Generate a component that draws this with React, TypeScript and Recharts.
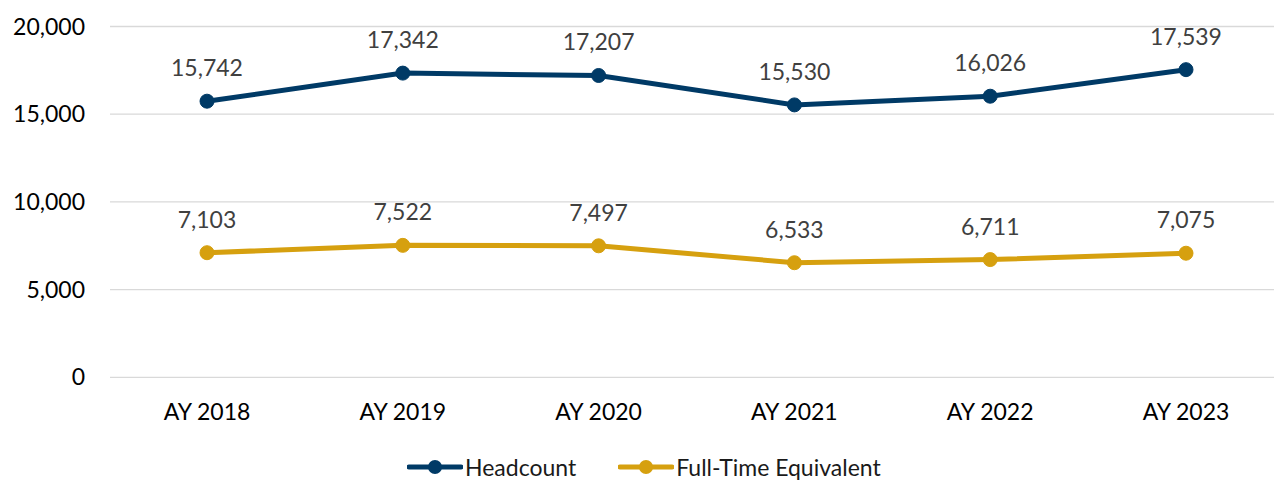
import React from 'react';
import { LineChart, Line, XAxis, YAxis, CartesianGrid, Legend, LabelList } from 'recharts';

const categories = ['AY 2018', 'AY 2019', 'AY 2020', 'AY 2021', 'AY 2022', 'AY 2023'];
const headcount = [15742, 17342, 17207, 15530, 16026, 17539];
const fte = [7103, 7522, 7497, 6533, 6711, 7075];
const yTicks = [0, 5000, 10000, 15000, 20000];

const data = categories.map((c, i) => ({ name: c, headcount: headcount[i], fte: fte[i] }));

const NAVY = '#003A66';
const GOLD = '#D6A00F';
const FONT = 'Lato, "Open Sans", sans-serif';
const fmt = (v: number) => v.toLocaleString('en-US');

const makeLabel = (props: any) => {
  const { x, y, value } = props;
  return (
    <text x={x} y={y - 25} textAnchor="middle" fill="#404040" fontSize={23} fontFamily={FONT}>
      {fmt(value)}
    </text>
  );
};

const LegendContent = () => {
  const items = [
    { label: 'Headcount', color: NAVY },
    { label: 'Full-Time Equivalent', color: GOLD },
  ];
  return (
    <div
      style={{
        display: 'flex',
        alignItems: 'center',
        whiteSpace: 'nowrap',
        fontFamily: FONT,
        fontSize: 23,
        lineHeight: '28px',
        height: 28,
        color: '#1a1a1a',
      }}
    >
      {items.map((it, i) => (
        <div key={it.label} style={{ display: 'flex', alignItems: 'center', marginRight: i === 0 ? 42 : 0 }}>
          <svg width={56} height={20} style={{ display: 'block' }}>
            <line x1={2} y1={10} x2={54} y2={10} stroke={it.color} strokeWidth={5} strokeLinecap="round" />
            <circle cx={28} cy={10} r={7} fill={it.color} />
          </svg>
          <span style={{ marginLeft: 2 }}>{it.label}</span>
        </div>
      ))}
    </div>
  );
};

export default function App() {
  return (
    <div style={{ position: 'absolute', left: 0, top: 0, width: 1274, height: 481, overflow: 'hidden', background: '#fff' }}>
      <LineChart width={1300} height={481} data={data} margin={{ top: 26.5, right: 16, bottom: 45.7, left: 10 }}>
        <CartesianGrid horizontal vertical={false} stroke="#D9D9D9" strokeWidth={1.3} />
        <XAxis
          dataKey="name"
          height={30}
          axisLine={false}
          tickLine={false}
          tickSize={0}
          tickMargin={26}
          padding={{ left: 97, right: 98 }}
          tick={{ fill: '#000', fontSize: 23, fontFamily: FONT }}
          interval={0}
        />
        <YAxis
          width={100}
          domain={[0, 20000]}
          ticks={yTicks}
          axisLine={false}
          tickLine={false}
          tickSize={0}
          tickMargin={25}
          tickFormatter={fmt}
          tick={{ fill: '#000', fontSize: 23, fontFamily: FONT }}
        />
        <Legend
          verticalAlign="bottom"
          content={<LegendContent />}
          wrapperStyle={{ position: 'absolute', left: 407, top: 453, width: 'auto', height: 28 }}
        />
        <Line
          dataKey="headcount"
          name="Headcount"
          stroke={NAVY}
          strokeWidth={5}
          dot={{ r: 7, fill: NAVY, stroke: NAVY, strokeWidth: 1 }}
          activeDot={false}
          isAnimationActive={false}
        >
          <LabelList dataKey="headcount" content={makeLabel} />
        </Line>
        <Line
          dataKey="fte"
          name="Full-Time Equivalent"
          stroke={GOLD}
          strokeWidth={5}
          dot={{ r: 7, fill: GOLD, stroke: GOLD, strokeWidth: 1 }}
          activeDot={false}
          isAnimationActive={false}
        >
          <LabelList dataKey="fte" content={makeLabel} />
        </Line>
      </LineChart>
    </div>
  );
}
